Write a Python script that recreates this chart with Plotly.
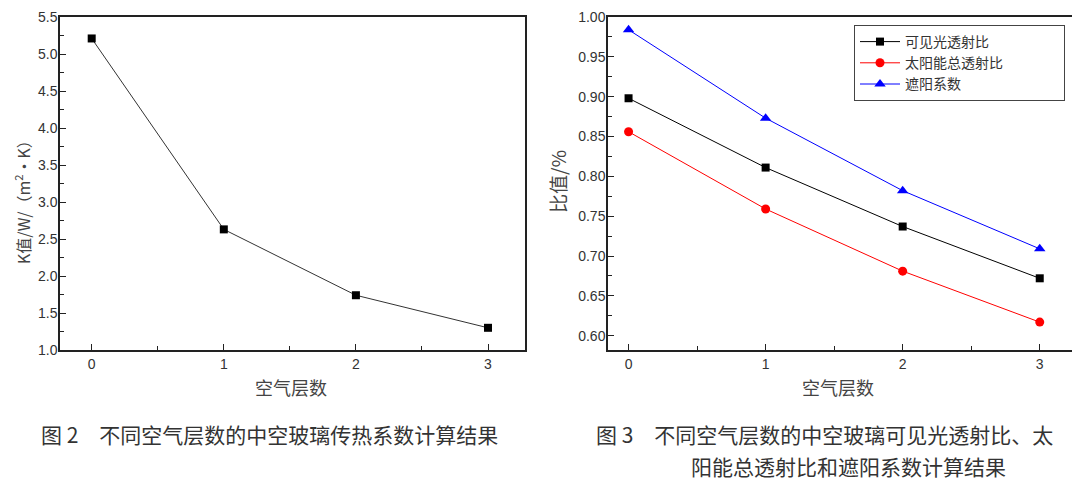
import plotly.graph_objects as go

# Data
layers = [0, 1, 2, 3]
k_value = [5.21, 2.63, 1.74, 1.30]

visible_trans = [0.898, 0.811, 0.737, 0.672]
solar_trans = [0.856, 0.759, 0.681, 0.617]
shading_coef = [0.984, 0.873, 0.782, 0.709]

# the page puts the figure 8px in from the top-left corner of the window
W, H = 1072, 477
OFF = 8
cjk = "Noto Sans CJK SC"
tickfont = dict(family="Liberation Sans", size=14, color="#333")
pad = "\u3000\u3000\u3000\u3000"  # keeps the legend box as wide as in the original


def px_x(v):
    return (v - OFF) / W


def px_y(v):
    return (H - (v - OFF)) / H


fig = go.Figure()

# Fig 2: K value
fig.add_trace(go.Scatter(x=layers, y=k_value, mode="lines+markers",
                         line=dict(color="#333", width=1),
                         marker=dict(symbol="square", size=8, color="black"),
                         showlegend=False, xaxis="x", yaxis="y"))

# Fig 3: three ratios
fig.add_trace(go.Scatter(x=layers, y=visible_trans, mode="lines+markers", name="可见光透射比",
                         line=dict(color="black", width=1),
                         marker=dict(symbol="square", size=8, color="black"),
                         xaxis="x2", yaxis="y2"))
fig.add_trace(go.Scatter(x=layers, y=solar_trans, mode="lines+markers", name="太阳能总透射比" + pad,
                         line=dict(color="red", width=1),
                         marker=dict(symbol="circle", size=9, color="red"),
                         xaxis="x2", yaxis="y2"))
fig.add_trace(go.Scatter(x=layers, y=shading_coef, mode="lines+markers", name="遮阳系数",
                         line=dict(color="blue", width=1),
                         marker=dict(symbol="triangle-up", size=10, color="blue"),
                         xaxis="x2", yaxis="y2"))

axis_common = dict(showline=True, linecolor="#222", linewidth=1.5, mirror=True,
                   ticks="inside", ticklen=6, tickcolor="#222", tickwidth=1.2,
                   showgrid=False, zeroline=False, tickfont=tickfont,
                   automargin=False, ticklabeloverflow="allow")
minor_x = dict(ticks="inside", dtick=0.5, ticklen=4, tickcolor="#222")

fig.update_layout(
    width=W, height=H,
    margin=dict(l=0, r=0, t=0, b=0, autoexpand=False),
    plot_bgcolor="white", paper_bgcolor="white",
    xaxis=dict(domain=[px_x(60), px_x(525)], range=[-0.24, 3.28], anchor="y",
               tickvals=layers, minor=minor_x, ticklabelstandoff=0, **axis_common),
    yaxis=dict(domain=[px_y(350), px_y(17)], range=[1.0, 5.5], anchor="x",
               dtick=0.5, tickformat=".1f", ticklabelstandoff=-2,
               minor=dict(ticks="inside", dtick=0.25, ticklen=4, tickcolor="#222"),
               **axis_common),
    xaxis2=dict(domain=[px_x(608), px_x(1074)], range=[-0.15, 3.25], anchor="y2",
                tickvals=layers, minor=minor_x, ticklabelstandoff=0, **axis_common),
    yaxis2=dict(domain=[px_y(350), px_y(17)], range=[0.582, 1.0], anchor="x2",
                dtick=0.05, tickformat=".2f", ticklabelstandoff=-2,
                minor=dict(ticks="inside", dtick=0.025, ticklen=4, tickcolor="#222"),
                **axis_common),
    legend=dict(x=px_x(854), y=px_y(25), xanchor="left", yanchor="top",
                bgcolor="white", bordercolor="#444", borderwidth=1,
                font=dict(family=cjk, size=14, color="#333"),
                tracegroupgap=0, itemwidth=40),
)

annotations = [
    # axis titles
    dict(x=px_x(291), y=px_y(387), text="空气层数", font=dict(family=cjk, size=18, color="#444")),
    dict(x=px_x(838), y=px_y(387), text="空气层数", font=dict(family=cjk, size=18, color="#444")),
    dict(x=px_x(23), y=px_y(198), text="K值/W/（m<sup>2</sup>•K）", textangle=-90,
         font=dict(family=cjk, size=16, color="#444")),
    dict(x=px_x(557), y=px_y(182), text="比值/%", textangle=-90,
         font=dict(family=cjk, size=19, color="#444")),
    # captions
    dict(x=px_x(39), y=px_y(434), xanchor="left", text="图 2　不同空气层数的中空玻璃传热系数计算结果",
         font=dict(family=cjk, size=21, color="#333")),
    dict(x=px_x(594), y=px_y(434), xanchor="left", text="图 3　不同空气层数的中空玻璃可见光透射比、太",
         font=dict(family=cjk, size=21, color="#333")),
    dict(x=px_x(689), y=px_y(466), xanchor="left", text="阳能总透射比和遮阳系数计算结果",
         font=dict(family=cjk, size=21, color="#333")),
]
for a in annotations:
    a.update(xref="paper", yref="paper", showarrow=False)
    a.setdefault("xanchor", "center")
    a.setdefault("yanchor", "middle")
fig.update_layout(annotations=annotations)

fig.write_html("out.html")
